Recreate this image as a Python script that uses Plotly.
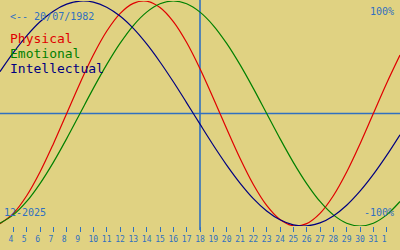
import plotly.graph_objects as go

# Days shown (December 2025, continuing into January 2026)
days = list(range(3, 34))
tick_days = list(range(4, 33))
tick_labels = ["4", "5", "6", "7", "8", "9", "10", "11", "12", "13", "14", "15", "16", "17",
               "18", "19", "20", "21", "22", "23", "24", "25", "26", "27", "28", "29", "30", "31", "1"]

# Biorhythm values (%), one per day from day 3 to day 33
physical = [-97.9, -88.8, -73.1, -52.0, -27.0, 0.0, 27.0, 52.0, 73.1, 88.8, 97.9, 99.8, 94.2,
            81.7, 63.1, 39.8, 13.6, -13.6, -39.8, -63.1, -81.7, -94.2, -99.8, -97.9, -88.8,
            -73.1, -52.0, -27.0, 0.0, 27.0, 52.0]
emotional = [-97.5, -90.1, -78.2, -62.3, -43.4, -22.3, 0.0, 22.3, 43.4, 62.3, 78.2, 90.1, 97.5,
             100.0, 97.5, 90.1, 78.2, 62.3, 43.4, 22.3, 0.0, -22.3, -43.4, -62.3, -78.2, -90.1,
             -97.5, -100.0, -97.5, -90.1, -78.2]
intellectual = [37.2, 54.1, 69.0, 81.5, 91.0, 97.2, 99.9, 99.0, 94.5, 86.6, 75.6, 61.8, 45.8,
                28.2, 9.5, -9.5, -28.2, -45.8, -61.8, -75.6, -86.6, -94.5, -99.0, -99.9, -97.2,
                -91.0, -81.5, -69.0, -54.1, -37.2, -18.9]

series_names = ["Physical", "Emotional", "Intellectual"]
series_colors = ["#e00000", "#008000", "#000080"]
birth_label = "<-- 20/07/1982"
month_label = "12-2025"
today = 18

BG = "#e0d282"
BLUE = "#3070c0"
MONO = "DejaVu Sans Mono"

W, H = 400, 250
MT, MB = 1, 24
PH = H - MT - MB


def py(pix):
    """pixel y (from top) -> paper y"""
    return (H - MB - pix) / PH


fig = go.Figure()
for name, vals, col in zip(series_names, [physical, emotional, intellectual], series_colors):
    fig.add_trace(go.Scatter(x=days, y=vals, mode="lines", name=name,
                             line=dict(color=col, width=1.2, shape="spline"),
                             hoverinfo="skip"))

# zero line and "today" line
fig.add_shape(type="line", xref="paper", yref="y", x0=0, x1=1, y0=0, y1=0,
              line=dict(color=BLUE, width=1.6), layer="below")
fig.add_shape(type="line", xref="x", yref="paper", x0=today, x1=today,
              y0=py(230), y1=py(0), line=dict(color=BLUE, width=1.6), layer="below")

annotations = [
    dict(text=birth_label, x=9 / W, y=py(16.5), xanchor="left", yanchor="middle",
         font=dict(family=MONO, size=10, color=BLUE)),
    dict(text="100%", x=395 / W, y=py(11.5), xanchor="right", yanchor="middle",
         font=dict(family=MONO, size=10, color=BLUE)),
    dict(text="-100%", x=395 / W, y=py(212.5), xanchor="right", yanchor="middle",
         font=dict(family=MONO, size=10, color=BLUE)),
    dict(text=month_label, x=3 / W, y=py(212), xanchor="left", yanchor="middle",
         font=dict(family=MONO, size=10, color=BLUE)),
]
for i, (name, col) in enumerate(zip(series_names, series_colors)):
    annotations.append(dict(text=name, x=9 / W, y=py(38.5 + 15 * i), xanchor="left",
                            yanchor="middle", font=dict(family=MONO, size=13, color=col)))
for a in annotations:
    a.update(xref="paper", yref="paper", showarrow=False, borderpad=0)

ticktext = [t if len(t) > 1 else t + "\u00a0" for t in tick_labels]

fig.update_layout(
    width=W, height=H,
    margin=dict(l=0, r=0, t=MT, b=MB, pad=0),
    paper_bgcolor=BG, plot_bgcolor=BG,
    showlegend=False,
    annotations=annotations,
    xaxis=dict(range=[3, 33], showgrid=False, zeroline=False, showline=False,
               tickmode="array", tickvals=tick_days, ticktext=ticktext,
               ticks="outside", ticklen=5, tickwidth=1, tickcolor=BLUE,
               tickfont=dict(family=MONO, size=8, color=BLUE), fixedrange=True),
    yaxis=dict(range=[-100, 100], showgrid=False, zeroline=False, showline=False,
               showticklabels=False, ticks="", fixedrange=True),
)

fig.write_html("out.html", config={"displayModeBar": False})
